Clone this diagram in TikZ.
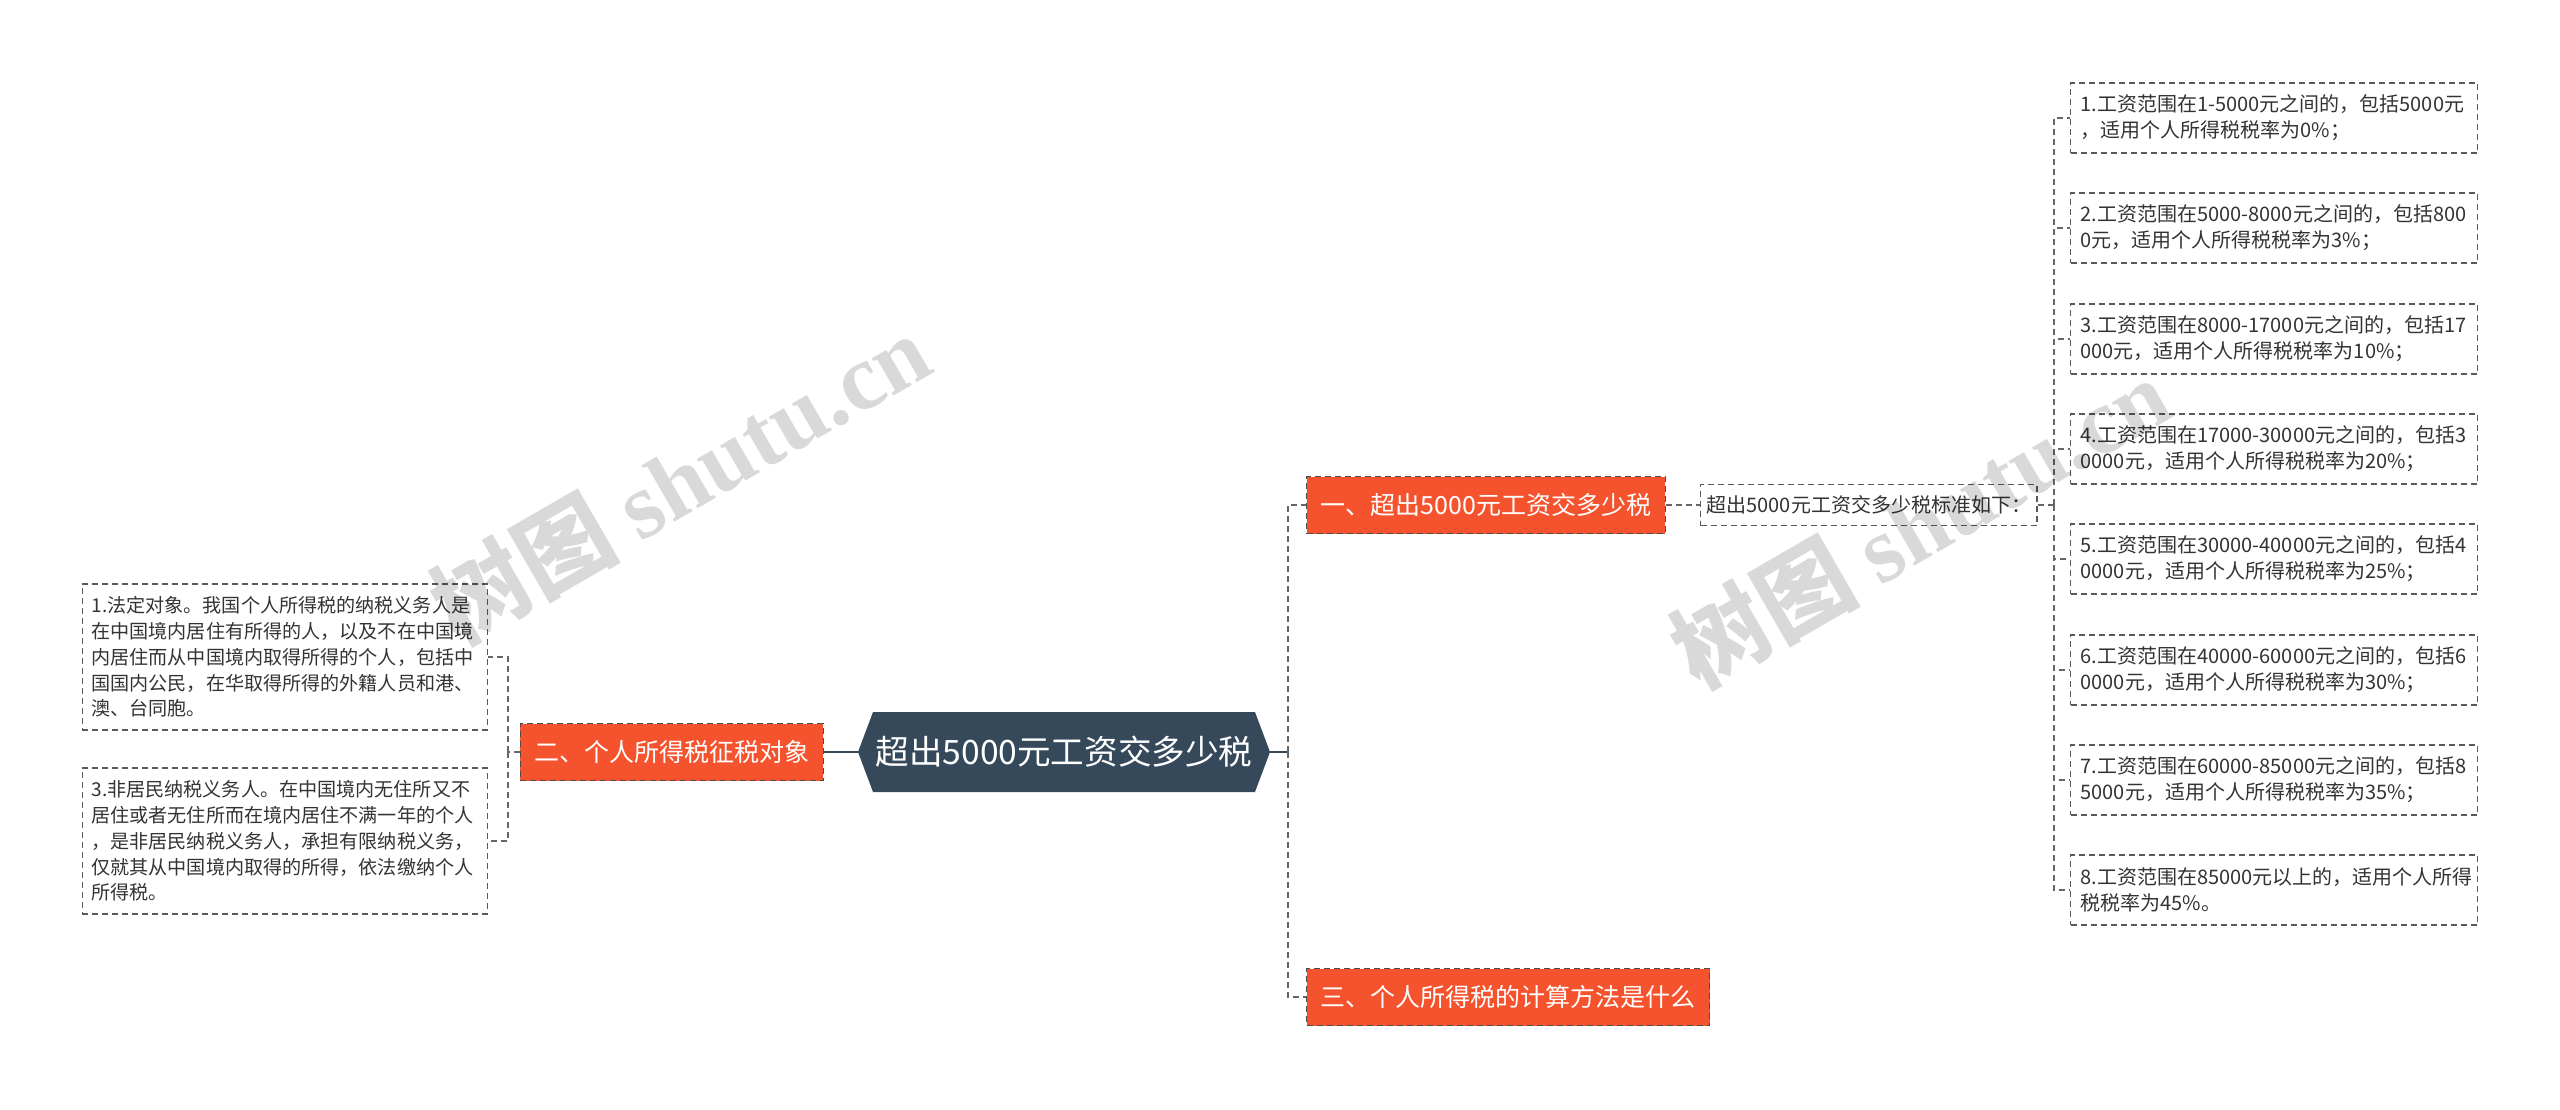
\documentclass[tikz,border=0pt]{standalone}
\usepackage{fontspec}
\setmainfont{Noto Sans CJK SC}
\newfontfamily\wmfont{Liberation Serif}
\usetikzlibrary{positioning}
\definecolor{rootblue}{HTML}{35495A}
\definecolor{topicred}{HTML}{F5532D}
\definecolor{linegray}{HTML}{666666}
\definecolor{textgray}{HTML}{333333}

\begin{document}
\begin{tikzpicture}[x=0.5pt, y=-0.5pt,
	rootnode/.style={minimum width=206pt, minimum height=40pt, inner sep=0pt, text=white, font=\fontsize{16.8}{20}\selectfont},
	topic/.style={fill=topicred, draw=black!70, dash pattern=on 3pt off 2pt, line width=0.6pt, text=white, minimum height=28.5pt, inner xsep=7pt, font=\fontsize{12.5}{15}\selectfont},
	note/.style={draw=black!65, dash pattern=on 3pt off 2pt, line width=0.6pt, text=textgray, align=left, inner xsep=5pt, font=\fontsize{10}{13}\selectfont},
	ratebox/.style={note, text width=193.5pt, minimum height=35pt},
	whobox/.style={note, text width=193.5pt, minimum height=73pt, inner xsep=4.5pt, font=\fontsize{9.55}{12.9}\selectfont},
	branch/.style={draw=linegray, line width=0.9pt, dash pattern=on 3pt off 2pt},
	rootlink/.style={draw=rootblue, line width=1.2pt},
	watermark/.style={text=black, opacity=0.15, rotate=30, font=\fontsize{47}{52}\selectfont\bfseries}]
	\useasboundingbox (0,0) rectangle (2560,1109);
	% central topic
	\fill[rootblue] (858,752) -- (873,712) -- (1255,712) -- (1270,752) -- (1255,792) -- (873,792) -- cycle;
	\node[rootnode] (root) at (1064,752) {超出5000元工资交多少税};
	% main branches
	\node[topic, anchor=west] (t1) at (1306,505) {一、超出5000元工资交多少税};
	\node[topic, anchor=east] (t2) at (824,752) {二、个人所得税征税对象};
	\node[topic, anchor=west] (t3) at (1306,997) {三、个人所得税的计算方法是什么};
	\node[note, anchor=west, minimum height=20.5pt, inner xsep=3pt] (std) at (1700,505) {超出5000元工资交多少税标准如下：};
	% tax brackets
	\node[ratebox, anchor=west] (r1) at (2070,118) {1.工资范围在1-5000元之间的，包括5000元\\，适用个人所得税税率为0\%；};
	\node[ratebox, anchor=west] (r2) at (2070,228) {2.工资范围在5000-8000元之间的，包括800\\0元，适用个人所得税税率为3\%；};
	\node[ratebox, anchor=west] (r3) at (2070,339) {3.工资范围在8000-17000元之间的，包括17\\000元，适用个人所得税税率为10\%；};
	\node[ratebox, anchor=west] (r4) at (2070,449) {4.工资范围在17000-30000元之间的，包括3\\0000元，适用个人所得税税率为20\%；};
	\node[ratebox, anchor=west] (r5) at (2070,559) {5.工资范围在30000-40000元之间的，包括4\\0000元，适用个人所得税税率为25\%；};
	\node[ratebox, anchor=west] (r6) at (2070,670) {6.工资范围在40000-60000元之间的，包括6\\0000元，适用个人所得税税率为30\%；};
	\node[ratebox, anchor=west] (r7) at (2070,780) {7.工资范围在60000-85000元之间的，包括8\\5000元，适用个人所得税税率为35\%；};
	\node[ratebox, anchor=west] (r8) at (2070,890) {8.工资范围在85000元以上的，适用个人所得\\税税率为45\%。};
	% taxpayers
	\node[whobox, anchor=east] (w1) at (488,657) {1.法定对象。我国个人所得税的纳税义务人是\\在中国境内居住有所得的人，以及不在中国境\\内居住而从中国境内取得所得的个人，包括中\\国国内公民，在华取得所得的外籍人员和港、\\澳、台同胞。};
	\node[whobox, anchor=east] (w3) at (488,841) {3.非居民纳税义务人。在中国境内无住所又不\\居住或者无住所而在境内居住不满一年的个人\\，是非居民纳税义务人，承担有限纳税义务，\\仅就其从中国境内取得的所得，依法缴纳个人\\所得税。};
	% connectors
	\coordinate (rj) at (1288,752);
	\coordinate (lj) at (508,752);
	\coordinate (sj) at (2054,505);
	\draw[rootlink] (root.east) -- (rj);
	\draw[rootlink] (root.west) -- (t2.east);
	\draw[branch] (rj) |- (t1.west);
	\draw[branch] (rj) |- (t3.west);
	\draw[branch] (t1.east) -- (std.west);
	\draw[branch] (std.east) -- (sj);
	\draw[branch] (sj) |- (r1.west);
	\draw[branch] (sj) |- (r2.west);
	\draw[branch] (sj) |- (r3.west);
	\draw[branch] (sj) |- (r4.west);
	\draw[branch] (sj) |- (r5.west);
	\draw[branch] (sj) |- (r6.west);
	\draw[branch] (sj) |- (r7.west);
	\draw[branch] (sj) |- (r8.west);
	\draw[branch] (t2.west) -- (lj);
	\draw[branch] (lj) |- (w1.east);
	\draw[branch] (lj) |- (w3.east);
	% watermark
	\node[watermark] (wm1) at (680,478) {树图 {\wmfont shutu.cn}};
	\node[watermark] (wm2) at (1920,522) {树图 {\wmfont shutu.cn}};
\end{tikzpicture}
\end{document}
